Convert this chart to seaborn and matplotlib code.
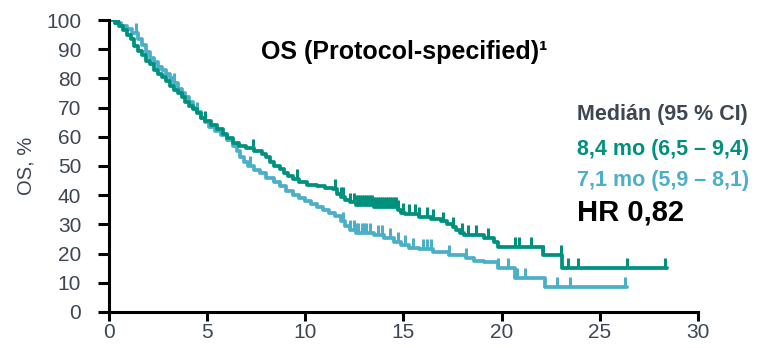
import numpy as np
import pandas as pd
import matplotlib
matplotlib.use("Agg")
import matplotlib.pyplot as plt
import seaborn as sns

# Kaplan-Meier step points (months, % alive)
arm_a_time = [0, 0.3, 0.5, 0.7, 0.9, 1.1, 1.3, 1.5, 1.7, 1.9, 2.1, 2.3, 2.5,
              2.7, 2.9, 3.1, 3.3, 3.5, 3.7, 3.9, 4.1, 4.3, 4.5, 4.7, 4.9, 5.2,
              5.5, 5.8, 6.0, 6.3, 6.6, 7.0, 7.4, 7.8, 8.0, 8.2, 8.4, 8.7, 8.9,
              9.1, 9.4, 9.7, 10.1, 10.6, 11.0, 11.4, 11.6, 11.8, 12.0, 12.3,
              12.6, 13.5, 14.7, 14.9, 15.1, 15.8, 16.4, 16.9, 17.2, 17.5, 17.7,
              17.9, 18.1, 19.1, 19.6, 19.8, 22.1, 23.1, 28.4]
arm_a_surv = [100, 99, 98, 96.5, 95, 93.5, 91, 89.5, 88, 86, 85, 83, 81.5,
              80.5, 79, 77.5, 76, 75, 73.5, 72, 70.5, 69.5, 68, 66.5, 65.5, 64,
              62.5, 61, 59.5, 58, 57, 56, 55, 54, 53, 51.5, 50, 49, 47.5,
              46.5, 45.5, 44.5, 43.5, 43, 42.5, 42, 40.5, 39.5, 38.5, 37.5,
              36.5, 36, 35, 34, 33.5, 32.5, 32, 31, 30, 29, 28,
              27, 26.5, 25.5, 24, 22.4, 19.4, 15, 15]
arm_a_censor = [0.45, 4.9, 7.35, 9.6, 11.5, 11.8, 11.9, 12.3, 12.5, 12.6, 12.7,
                12.8, 12.9, 13.0, 13.1, 13.2, 13.3, 13.4, 13.5, 13.6, 13.7,
                13.8, 13.9, 14.0, 14.1, 14.2, 14.3, 14.4, 14.5, 14.6, 14.7,
                15.0, 15.3, 15.6, 15.8, 16.2, 16.5, 17.0, 17.5, 18.0, 18.3,
                18.7, 19.3, 20.7, 20.9, 21.5, 22.1, 23.0, 23.4, 23.9, 26.4, 28.3]

arm_b_time = [0, 0.3, 0.6, 0.9, 1.2, 1.5, 1.7, 1.9, 2.1, 2.3, 2.5, 2.7, 2.9,
              3.1, 3.3, 3.5, 3.7, 3.9, 4.1, 4.3, 4.5, 4.7, 4.9, 5.1, 5.4, 5.7,
              6.0, 6.3, 6.5, 6.7, 6.9, 7.1, 7.4, 7.7, 8.0, 8.4, 8.7, 9.0, 9.4,
              9.7, 10.0, 10.3, 10.6, 10.9, 11.2, 11.5, 11.8, 12.0, 12.3, 12.6,
              13.5, 14.0, 14.5, 14.9, 15.3, 15.8, 16.5, 17.3, 18.2, 18.6, 19.1,
              19.8, 20.7, 22.2, 26.4]
arm_b_surv = [100, 99, 98, 97, 95.5, 93.5, 91.5, 89, 87, 85.5, 84, 83, 81.5,
              80, 78.5, 76.5, 75, 73.5, 72, 70, 68.5, 66.5, 65, 63.5, 62, 60.5,
              59, 57, 55, 53, 51.5, 50, 48.5, 47.5, 46, 44.5, 43, 41.5, 40,
              39, 38, 37, 36, 35, 34, 33, 31, 29.5, 28, 27,
              26.5, 25.5, 24, 23, 22, 21.5, 20.7, 19.5, 18.4, 17.5, 17,
              15, 11.6, 8.5, 8.5]
arm_b_censor = [0.2, 1.4, 3.3, 4.5, 7.2, 11.9, 12.3, 12.5, 12.6, 12.7, 12.9,
                13.0, 13.1, 13.3, 13.7, 13.9, 14.3, 14.7, 15.1, 15.5, 16.0,
                16.2, 16.4, 17.3, 18.2, 19.8, 20.3, 20.8, 21.2, 22.8, 23.5, 26.3]

x_ticks = [0, 5, 10, 15, 20, 25, 30]
y_ticks = [0, 10, 20, 30, 40, 50, 60, 70, 80, 90, 100]

title_text = "OS (Protocol-specified)\u00b9"
legend_header = "Medián (95 % CI)"
arm_a_label = "8,4 mo (6,5 – 9,4)"
arm_b_label = "7,1 mo (5,9 – 8,1)"
hr_label = "HR 0,82"

GREEN = "#00907e"
BLUE = "#4cafc8"
SLATE = "#3c4752"

sns.set_theme(style="white")
plt.rcParams["font.family"] = ["Liberation Sans", "DejaVu Sans"]

fig = plt.figure(figsize=(7.67, 3.48), dpi=100)
ax = fig.add_axes([0.142, 0.1035, 0.768, 0.839])

for times, surv, cens, color in [
    (arm_b_time, arm_b_surv, arm_b_censor, BLUE),
    (arm_a_time, arm_a_surv, arm_a_censor, GREEN),
]:
    df = pd.DataFrame({"t": times, "s": surv})
    sns.lineplot(data=df, x="t", y="s", drawstyle="steps-post", color=color,
                 lw=2.7, estimator=None, sort=False, ax=ax)
    t_arr = np.asarray(times)
    s_arr = np.asarray(surv)
    idx = np.searchsorted(t_arr, cens, side="right") - 1
    s_at = s_arr[idx]
    ax.vlines(cens, s_at, s_at + 3.4, color=color, lw=2.2)

ax.set_xlim(0, 30)
ax.set_ylim(0, 100)
ax.set_xticks(x_ticks)
ax.set_yticks(y_ticks)
ax.set_xticklabels([str(v) for v in x_ticks])
ax.set_yticklabels([str(v) for v in y_ticks])
ax.set_xlabel("")
ax.set_ylabel("OS, %", fontsize=14.5, color=SLATE)
ax.yaxis.set_label_coords(-0.124, 0.5)

for side in ["top", "right"]:
    ax.spines[side].set_visible(False)
for side in ["left", "bottom"]:
    ax.spines[side].set_linewidth(2.2)
    ax.spines[side].set_color("black")
ax.tick_params(axis="both", which="major", direction="out", width=2.2,
               color="black", labelsize=15, labelcolor=SLATE,
               bottom=True, left=True)
ax.tick_params(axis="y", length=8, pad=12)
ax.tick_params(axis="x", length=6.5, pad=1.5)
ax.patch.set_alpha(0)

fig.text(0.527, 0.85, title_text, fontsize=18, fontweight="bold",
         color="black", ha="center", va="center")
fig.text(0.752, 0.672, legend_header, fontsize=15.5, fontweight="bold",
         color=SLATE, ha="left", va="center")
fig.text(0.752, 0.57, arm_a_label, fontsize=15.5, fontweight="bold",
         color=GREEN, ha="left", va="center")
fig.text(0.752, 0.48, arm_b_label, fontsize=15.5, fontweight="bold",
         color=BLUE, ha="left", va="center")
fig.text(0.752, 0.39, hr_label, fontsize=21, fontweight="bold",
         color="black", ha="left", va="center")

fig.savefig("out.png", dpi=100)
